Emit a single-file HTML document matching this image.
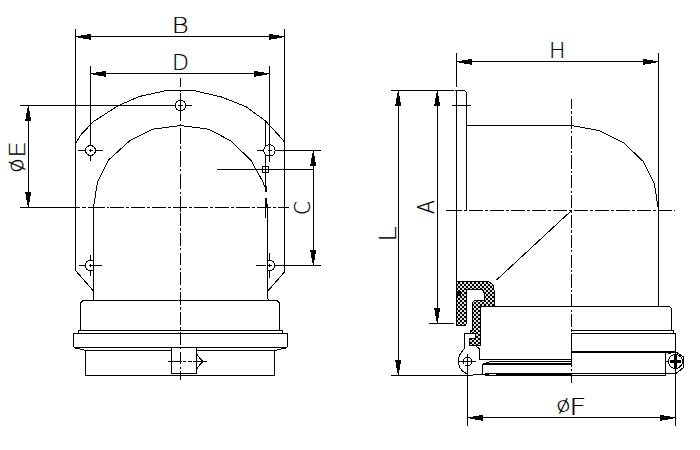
<!DOCTYPE html>
<html><head><meta charset="utf-8"><title>Elbow coupling dimensions</title>
<style>
html,body{margin:0;padding:0;background:#fff;}
body{width:700px;height:450px;overflow:hidden;}
svg{display:block;}
</style></head><body>
<svg width="700" height="450" viewBox="0 0 700 450" stroke="#000" fill="none">
<defs><pattern id="chk" width="4" height="4" patternUnits="userSpaceOnUse"><rect width="4" height="4" fill="#e0e0e0" stroke="none"/><rect x="0" y="0" width="2" height="2" fill="#000" stroke="none"/><rect x="2" y="2" width="2" height="2" fill="#000" stroke="none"/></pattern></defs>
<rect width="700" height="450" fill="#fff" stroke="none"/>
<g shape-rendering="crispEdges">
<line x1="75.5" y1="29" x2="75.5" y2="270.5" stroke-width="1" />
<line x1="284.5" y1="29" x2="284.5" y2="272" stroke-width="1" />
<line x1="75" y1="36.5" x2="285" y2="36.5" stroke-width="1" />
<polygon points="76.0,36.5 76.0,37.1 90.8,39.9 90.8,33.7" fill="#000" stroke="none"/>
<polygon points="284.0,36.5 284.0,37.1 269.2,39.9 269.2,33.7" fill="#000" stroke="none"/>
<line x1="90.5" y1="66" x2="90.5" y2="145.6" stroke-width="1" />
<line x1="90.5" y1="149" x2="90.5" y2="152" stroke-width="1" />
<line x1="90.5" y1="155.4" x2="90.5" y2="161" stroke-width="1" />
<line x1="269.5" y1="66" x2="269.5" y2="162" stroke-width="1" />
<line x1="90" y1="73.5" x2="270" y2="73.5" stroke-width="1" />
<polygon points="91.0,73.5 91.0,74.1 105.8,76.9 105.8,70.7" fill="#000" stroke="none"/>
<polygon points="269.0,73.5 269.0,74.1 254.2,76.9 254.2,70.7" fill="#000" stroke="none"/>
<line x1="20" y1="105.5" x2="175.3" y2="105.5" stroke-width="1" />
<line x1="178" y1="105.5" x2="182.5" y2="105.5" stroke-width="1" />
<line x1="185.8" y1="105.5" x2="192" y2="105.5" stroke-width="1" />
<line x1="20" y1="207.5" x2="79.6" y2="207.5" stroke-width="1" />
<line x1="28.5" y1="105" x2="28.5" y2="207" stroke-width="1" />
<polygon points="27.9,106.0 28.5,106.0 31.3,120.8 25.1,120.8" fill="#000" stroke="none"/>
<polygon points="27.9,207.0 28.5,207.0 31.3,192.2 25.1,192.2" fill="#000" stroke="none"/>
<line x1="257" y1="150.5" x2="264" y2="150.5" stroke-width="1" />
<line x1="268" y1="150.5" x2="271.5" y2="150.5" stroke-width="1" />
<line x1="275" y1="150.5" x2="321" y2="150.5" stroke-width="1" />
<line x1="256" y1="265.5" x2="266" y2="265.5" stroke-width="1" />
<line x1="268" y1="265.5" x2="272" y2="265.5" stroke-width="1" />
<line x1="274.7" y1="265.5" x2="321" y2="265.5" stroke-width="1" />
<line x1="313.5" y1="150" x2="313.5" y2="265" stroke-width="1" />
<polygon points="312.9,151.0 313.5,151.0 316.3,165.8 310.1,165.8" fill="#000" stroke="none"/>
<polygon points="312.9,265.0 313.5,265.0 316.3,250.2 310.1,250.2" fill="#000" stroke="none"/>
<line x1="217" y1="169.5" x2="314" y2="169.5" stroke-width="1" />
<path d="M180.5 78.0V87.3M180.5 89.5V91.7M180.5 93.4V121.4M180.5 123.8V126.0M180.5 128.4V144.0M180.5 146.4V148.6M180.5 150.9V166.5M180.5 168.9V171.1M180.5 173.5V189.1M180.5 191.5V193.7M180.5 196.0V211.6" fill="none"/>
<path d="M180.5 213.0V225.8M180.5 228.1V230.6M180.5 232.8V245.6M180.5 247.9V250.4M180.5 252.6V265.4M180.5 267.7V270.2M180.5 272.4V285.2M180.5 287.5V290.0M180.5 292.2V305.0M180.5 307.3V309.8M180.5 312.0V324.8M180.5 327.1V329.6M180.5 331.8V344.6M180.5 346.9V349.4M180.5 351.6V364.4M180.5 366.7V369.2M180.5 371.4V380.4" fill="none"/>
<path d="M82.2 207.5H85.5M88.0 207.5H104.5M106.5 207.5H108.6M110.0 207.5H124.0M126.0 207.5H129.0M131.0 207.5H145.0M147.0 207.5H150.0M152.0 207.5H166.0M168.0 207.5H171.0M173.0 207.5H187.0M189.0 207.5H192.0M194.0 207.5H208.0M210.0 207.5H213.0M215.0 207.5H229.0M231.0 207.5H234.0M236.0 207.5H250.0M252.0 207.5H255.0M257.0 207.5H271.0M273.0 207.5H276.0M278.0 207.5H289.2" fill="none"/>
<line x1="78" y1="150.5" x2="85.6" y2="150.5" stroke-width="1" />
<line x1="89" y1="150.5" x2="92.5" y2="150.5" stroke-width="1" />
<line x1="95.4" y1="150.5" x2="103" y2="150.5" stroke-width="1" />
<line x1="79" y1="265.5" x2="85.3" y2="265.5" stroke-width="1" />
<line x1="88.5" y1="265.5" x2="102" y2="265.5" stroke-width="1" />
<line x1="90.5" y1="255" x2="90.5" y2="260.5" stroke-width="1" />
<line x1="90.5" y1="270.5" x2="90.5" y2="276" stroke-width="1" />
<line x1="90.5" y1="264" x2="90.5" y2="267" stroke-width="1" />
<line x1="269.5" y1="253" x2="269.5" y2="260.5" stroke-width="1" />
<line x1="269.5" y1="270.5" x2="269.5" y2="278" stroke-width="1" />
<line x1="269.5" y1="264" x2="269.5" y2="267" stroke-width="1" />
<line x1="265.5" y1="121" x2="265.5" y2="145.5" stroke-width="1" />
<line x1="265.5" y1="154" x2="265.5" y2="186" stroke-width="1" />
<line x1="265.5" y1="186" x2="265.5" y2="192" stroke-width="2" />
<line x1="265.5" y1="198" x2="265.5" y2="207" stroke-width="2" />
<line x1="265.5" y1="207" x2="265.5" y2="218" stroke-width="1" />
<rect x="262.5" y="166.5" width="6" height="6" fill="none"/>
<line x1="93.5" y1="207" x2="93.5" y2="300" stroke-width="1" />
<line x1="267.5" y1="204" x2="267.5" y2="299" stroke-width="1" />
<line x1="84" y1="300.5" x2="276" y2="300.5" stroke-width="1" />
<line x1="80.5" y1="304" x2="80.5" y2="330" stroke-width="1" />
<line x1="279.5" y1="304" x2="279.5" y2="330" stroke-width="1" />
<line x1="78" y1="330.5" x2="283" y2="330.5" stroke-width="1" />
<line x1="78.5" y1="330" x2="78.5" y2="334" stroke-width="1" />
<line x1="282.5" y1="330" x2="282.5" y2="334" stroke-width="1" />
<line x1="73" y1="333.5" x2="288" y2="333.5" stroke-width="1" />
<line x1="73.5" y1="333" x2="73.5" y2="347" stroke-width="1" />
<line x1="287.5" y1="333" x2="287.5" y2="347" stroke-width="1" />
<line x1="74" y1="347.5" x2="287" y2="347.5" stroke-width="1" />
<line x1="85.5" y1="350" x2="85.5" y2="375" stroke-width="1" />
<line x1="274.5" y1="350" x2="274.5" y2="375" stroke-width="1" />
<line x1="85" y1="350.5" x2="171" y2="350.5" stroke-width="1" />
<line x1="196" y1="350.5" x2="275" y2="350.5" stroke-width="1" />
<line x1="85" y1="375.5" x2="275" y2="375.5" stroke-width="1" />
<rect x="171.5" y="347.5" width="25" height="26" fill="none"/>
<path d="M168.3 361.5H182M183 361.5H186.3M188.3 361.5H191.7M193.3 361.5H207" fill="none"/>
</g>
<g shape-rendering="crispEdges">
<circle cx="180.5" cy="105.5" r="5.2" fill="none"/>
<circle cx="90.5" cy="150.5" r="5" fill="none"/>
<circle cx="269.5" cy="150.5" r="5.7" fill="none"/>
<path d="M93.5 260.3H90.5 A5.2 5.2 0 0 0 90.5 270.7H93.5" fill="none"/>
<path d="M267.5 260.3H269.5 A5.2 5.2 0 0 1 269.5 270.7H267.5" fill="none"/>
<polyline points="75.9,143.1 80.7,135.1 93.1,121.8 118,105.8 139.3,96.5 166.5,90.5 193.5,90.5 221.2,96.9 246.1,106.7 265.7,121.2 283.4,140.4 284.3,143" stroke-width="1" fill="none"/>
<polyline points="93.5,207 97.5,182 108.5,160 130.2,140.4 152.7,129.2 180.4,125.5 208.8,129.2 231,141 251,160.5 262.2,180.5 265,187" stroke-width="1" fill="none"/>
<polyline points="75.5,270.5 93.5,291" stroke-width="1" fill="none"/>
<polyline points="284.5,272 267.5,291.3" stroke-width="1" fill="none"/>
<polyline points="267.5,298.5 269,300.5" stroke-width="1" fill="none"/>
<path d="M80.5 304.5 Q80.5 300.5 84.5 300.5" fill="none"/>
<path d="M279.5 304.5 Q279.5 300.5 275.5 300.5" fill="none"/>
<polyline points="75.5,348 80,349 85.5,350.5" stroke-width="1" fill="none"/>
<polyline points="285.5,348 281,349 274.5,350.5" stroke-width="1" fill="none"/>
<polyline points="196.5,354 202.5,361.5 196.5,369" stroke-width="1" fill="none"/>
<circle cx="202.5" cy="361.5" r="1.3" fill="#000" stroke="none"/>
</g>
<g shape-rendering="crispEdges">
<line x1="456.5" y1="53" x2="456.5" y2="87" stroke-width="1" />
<line x1="658.5" y1="53" x2="658.5" y2="306" stroke-width="1" />
<line x1="456" y1="61.5" x2="659" y2="61.5" stroke-width="1" />
<polygon points="457.0,61.5 457.0,62.1 471.8,64.9 471.8,58.7" fill="#000" stroke="none"/>
<polygon points="658.0,61.5 658.0,62.1 643.2,64.9 643.2,58.7" fill="#000" stroke="none"/>
<line x1="391" y1="90.5" x2="454" y2="90.5" stroke-width="1" />
<line x1="398.5" y1="90" x2="398.5" y2="375" stroke-width="1" />
<line x1="437.5" y1="90" x2="437.5" y2="323" stroke-width="1" />
<polygon points="397.9,91.0 398.5,91.0 401.3,105.8 395.1,105.8" fill="#000" stroke="none"/>
<polygon points="397.9,375.0 398.5,375.0 401.3,360.2 395.1,360.2" fill="#000" stroke="none"/>
<polygon points="436.9,91.0 437.5,91.0 440.3,105.8 434.1,105.8" fill="#000" stroke="none"/>
<polygon points="436.9,323.0 437.5,323.0 440.3,308.2 434.1,308.2" fill="#000" stroke="none"/>
<line x1="429" y1="323.5" x2="454" y2="323.5" stroke-width="1" />
<line x1="391" y1="375.5" x2="473" y2="375.5" stroke-width="1" />
<line x1="456.5" y1="90" x2="456.5" y2="282" stroke-width="1" />
<line x1="455" y1="90.5" x2="464" y2="90.5" stroke-width="1" />
<line x1="466.5" y1="93" x2="466.5" y2="210" stroke-width="1" />
<line x1="452" y1="105.5" x2="471" y2="105.5" stroke-width="1" />
<line x1="466" y1="125.5" x2="572" y2="125.5" stroke-width="1" />
<path d="M571.5 99.0V109.0M571.5 111.3V113.7M571.5 115.7V128.9M571.5 131.0V133.4M571.5 135.5V148.7M571.5 150.8V153.2M571.5 155.4V168.6M571.5 170.7V173.1M571.5 175.2V188.4M571.5 190.5V192.9M571.5 195.0V208.2M571.5 210.3V212.7M571.5 214.8V228.0M571.5 230.1V232.5M571.5 234.7V247.9M571.5 250.0V252.4M571.5 254.5V267.7M571.5 269.8V272.2M571.5 274.3V287.5M571.5 289.6V292.0M571.5 294.2V307.4M571.5 309.5V311.9M571.5 314.0V327.2M571.5 329.3V331.7M571.5 333.8V347.0M571.5 349.1V351.5M571.5 353.7V366.9M571.5 369.0V371.4M571.5 373.5V382.5" fill="none"/>
<path d="M446.2 210.5H461.9M463.8 210.5H467.2M469.3 210.5H482.7M484.8 210.5H488.2M490.3 210.5H503.7M505.8 210.5H509.2M511.3 210.5H524.7M526.8 210.5H530.2M532.3 210.5H545.7M547.8 210.5H551.2M553.3 210.5H566.7M568.8 210.5H572.2M574.3 210.5H587.7M589.8 210.5H593.2M595.3 210.5H608.7M610.8 210.5H614.2M616.3 210.5H629.7M631.8 210.5H635.2M637.3 210.5H650.7M652.8 210.5H656.2M658.3 210.5H671.7M673.8 210.5H675.0" fill="none"/>
<line x1="480" y1="306.5" x2="669" y2="306.5" stroke-width="1" />
<line x1="671.5" y1="309" x2="671.5" y2="330" stroke-width="1" />
<line x1="571" y1="330.5" x2="674" y2="330.5" stroke-width="1" />
<line x1="673.5" y1="330" x2="673.5" y2="334" stroke-width="1" />
<line x1="571" y1="333.5" x2="676" y2="333.5" stroke-width="1" />
<line x1="675.5" y1="333" x2="675.5" y2="426" stroke-width="1" />
<line x1="571" y1="351.5" x2="676" y2="351.5" stroke-width="2" />
<line x1="571.5" y1="333" x2="571.5" y2="366" stroke-width="1" />
<line x1="571" y1="373.5" x2="676" y2="373.5" stroke-width="1" />
<line x1="571" y1="375.5" x2="666" y2="375.5" stroke-width="1" />
<line x1="665.5" y1="352" x2="665.5" y2="376" stroke-width="1" />
<line x1="665" y1="361.5" x2="669" y2="361.5" stroke-width="1" />
<line x1="479" y1="359.5" x2="572" y2="359.5" stroke-width="1" />
<line x1="490" y1="361.5" x2="572" y2="361.5" stroke-width="1" />
<line x1="483" y1="364" x2="572" y2="364" stroke-width="2" />
<line x1="482.5" y1="364" x2="482.5" y2="374" stroke-width="1" />
<line x1="473" y1="374.5" x2="486" y2="374.5" stroke-width="1" />
<line x1="485" y1="374.5" x2="572" y2="374.5" stroke-width="3" />
<line x1="489" y1="374.5" x2="496" y2="374.5" stroke-width="1" stroke="#fff"/>
<line x1="467.5" y1="354" x2="467.5" y2="426" stroke-width="1" />
<line x1="467" y1="417.5" x2="676" y2="417.5" stroke-width="1" />
<polygon points="468.0,417.5 468.0,418.1 482.8,420.9 482.8,414.7" fill="#000" stroke="none"/>
<polygon points="675.0,417.5 675.0,418.1 660.2,420.9 660.2,414.7" fill="#000" stroke="none"/>
<line x1="458" y1="361.5" x2="476" y2="361.5" stroke-width="1" />
<line x1="675.5" y1="354.5" x2="675.5" y2="369" stroke-width="3" />
<line x1="670" y1="361.5" x2="681" y2="361.5" stroke-width="3" />
<line x1="464.5" y1="333.5" x2="475" y2="333.5" stroke-width="1" />
<line x1="464.5" y1="333" x2="464.5" y2="348.5" stroke-width="1" />
<line x1="479.5" y1="348" x2="479.5" y2="360" stroke-width="1" />
</g>
<g shape-rendering="crispEdges">
<path d="M463.5 90.5 Q466.5 90.5 466.5 93.5" fill="none"/>
<polyline points="571.5,125.5 598.75,130.5 623.25,142.5 643,161.25 654.25,183.25 658.5,210" stroke-width="1" fill="none"/>
<polyline points="571.5,210.5 496.5,280" stroke-width="1" fill="none"/>
<path d="M668.5 306.5 Q671.5 306.5 671.5 309.5" fill="none"/>
<polyline points="668,353.5 676,352 683.5,357 683.5,367.5 676,373.5" stroke-width="1" fill="none"/>
<circle cx="675.5" cy="361.5" r="7" fill="none"/>
<polyline points="464.5,348 460.2,354 458.5,358.5 458.5,364 460,368 462.5,371 467.5,374.5" stroke-width="1" fill="none"/>
<circle cx="467.5" cy="361.5" r="4.5" fill="none"/>
<polyline points="471,345.5 476,346 479.5,349" stroke-width="1" fill="none"/>
<polyline points="482.5,364.5 490,361.5" stroke-width="1" fill="none"/>
</g>
<g shape-rendering="crispEdges">
<path d="M456.5 281.5 H485.5 Q494 281.5 494 290 V306.5 H480.5 V345.5 H469.5 V338.5 H475 V333.5 H470 V330 H472.5 V304 Q472.5 300.5 476 300.5 H484 V293 Q484 289.5 480.5 289.5 H466.5 V323.5 L465 325.5 H456.5 Z" fill="url(#chk)" stroke="#000" stroke-width="1"/>
<rect x="457" y="291" width="4" height="5" fill="#000" stroke="none"/>
</g>
<g font-family="'DejaVu Sans','Liberation Sans',sans-serif" font-weight="200" font-size="22" fill="#000" stroke="#000" stroke-width="0.2">
<text transform="translate(171.50,33.00) rotate(0) scale(1.200,1.000)">B</text>
<text transform="translate(172.00,70.00) rotate(0) scale(1.000,1.000)">D</text>
<text transform="translate(549.00,58.00) rotate(0) scale(1.000,1.000)">H</text>
<text transform="translate(569.00,415.00) rotate(0) scale(1.375,1.062)">F</text>
<text transform="rotate(-18,563.5,406.5) translate(556.00,411.50) rotate(0) scale(1.100,0.917)">ø</text>
<text transform="translate(25.00,158.00) rotate(-90) scale(1.222,1.000)">E</text>
<text transform="rotate(-18,17.0,165.5) translate(23.00,173.00) rotate(-90) scale(1.100,1.000)">ø</text>
<text transform="translate(310.00,215.00) rotate(-90) scale(0.917,1.000)">C</text>
<text transform="translate(434.00,214.00) rotate(-90) scale(0.923,1.062)">A</text>
<text transform="translate(396.00,242.00) rotate(-90) scale(1.286,1.062)">L</text>
</g>
</svg>
</body></html>
